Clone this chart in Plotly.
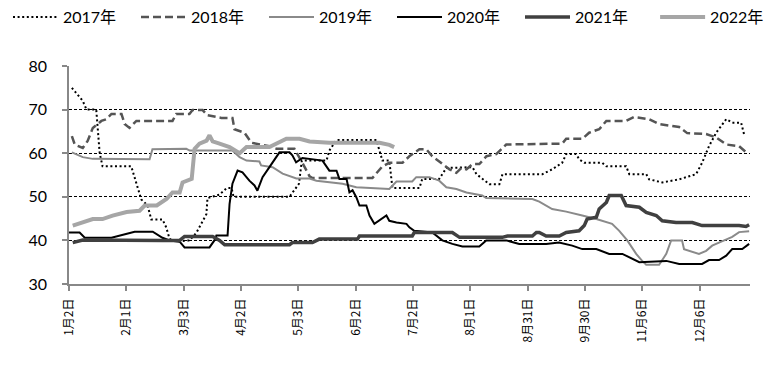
import plotly.graph_objects as go

# x positions are trading-day indices (20 trading days between labelled ticks)
tick_days = [0, 20, 40, 60, 80, 100, 120, 140, 160, 180, 200, 220]
tick_labels = ["1月2日", "2月1日", "3月3日", "4月2日", "5月3日", "6月2日",
               "7月2日", "8月1日", "8月31日", "9月30日", "11月6日", "12月6日"]

d2017 = [1, 4.8, 6.1, 9.5, 10.7, 11.7, 21.7, 25.2, 27.4, 28.7, 32.6, 33.9, 35.1, 38.6, 42,
         44.4, 47.9, 48.3, 52.5, 55, 56.7, 57.4, 76.9, 80.2, 81.2, 89.8, 90.8, 93.2, 107.2,
         108.3, 109.3, 111.7, 112.8, 122.2, 123.2, 129.1, 131.6, 140.7, 142.1, 146.6, 150.1,
         151.2, 165.1, 168.5, 172, 173.4, 176.9, 177.9, 179.7, 186, 187.4, 194.3, 195.4,
         201.3, 202.3, 206.9, 212.8, 218.7, 220.8, 223.2, 225.7, 229.2, 231.3, 234.4, 235.4]
v2017 = [75, 72, 70, 70, 60, 57, 57, 49.4, 48, 44.8, 44.8, 43, 40.3, 39.8, 40,
         41.7, 46, 49.7, 50.5, 52, 52, 50, 50, 53, 58.3, 58.3, 60.6, 63, 63,
         60.6, 58.3, 58.3, 52, 52, 54.1, 54.1, 56.6, 56.8, 55.2, 52.9, 52.9,
         55.2, 55.2, 56.3, 57.8, 59.8, 59.8, 58.6, 57.8, 57.8, 57, 57, 55.2,
         55.2, 54, 53.3, 54, 55.2, 57.8, 61.6, 64.7, 67.8, 67, 67, 64.4]

d2018 = [1, 2, 4.8, 6.5, 8.3, 11.3, 13, 14.8, 18.3, 19.4, 21.1, 23.5, 36.1, 37.4, 42, 43.1,
         46.6, 48.3, 53.1, 57, 57.7, 61.2, 63.6, 69.9, 72.4, 78.6, 81.4, 83.9, 84.9, 105.8,
         109.3, 111.7, 116.3, 118.7, 122.2, 124.6, 126.7, 130.2, 132.7, 135.1, 136.8, 138.6,
         140.7, 143.1, 145.6, 149, 152.5, 172, 173.4, 179, 181.4, 184.9, 187.4, 194.3, 197.1,
         202.3, 205.8, 212.8, 215.6, 222.2, 225.7, 229.2, 233.7, 236.5]
v2018 = [63.9, 62, 61.2, 62.8, 65.8, 67.4, 67.8, 69, 69, 66.7, 65.8, 67.4, 67.4, 69, 69, 69.9,
         69.9, 68.7, 68.1, 68.1, 65.5, 64.7, 62.4, 61.6, 61, 61, 57.8, 54.7, 54.3, 54.3,
         57, 57.8, 57.8, 59.3, 60.9, 60.9, 59.3, 57.5, 56.3, 55.5, 56.6, 56.3,
         57.5, 57.5, 59.3, 59.8, 62, 62.2, 63.3, 63.3, 64.7, 65.5, 67.4, 67.4, 68.3,
         67.8, 66.7, 66, 64.6, 64.4, 63.6, 62, 61.6, 60]

d2019 = [1, 3.7, 4.8, 8.3, 28.1, 29.1, 40.9, 42.1, 57, 59.5, 61.9, 66.4, 67, 71, 74.5, 79.3,
         83.9, 86.3, 90.8, 95.4, 100.2, 108.3, 111.7, 114.2, 119.7, 121.1, 125.7, 129.1, 131.6,
         135.1, 138.6, 144.1, 145.5, 161.6, 164, 168.5, 173.4, 179, 183.9, 189.4, 191.9, 194.7,
         197.8, 199.9, 201.3, 205.8, 208.3, 210, 213.8, 214.5, 216.3, 219.7, 222.2, 224.3,
         228.5, 231.3, 233.7, 237.2]
v2019 = [60.2, 59.5, 59.1, 58.7, 58.6, 60.9, 61, 60.6, 60.6, 59.1, 58.3, 58.1, 57.2, 56.8, 55.3, 54.2,
         54.2, 53.7, 53.3, 53, 52.2, 51.8, 51.8, 53.5, 53.5, 54.5, 54.5, 53.7, 52.2,
         51.8, 51, 50.3, 49.7, 49.5, 48.9, 47.2, 46.6, 45.7, 44.9, 43.8, 42.2, 40,
         36.9, 35.3, 34.4, 34.4, 36.9, 40, 40, 38, 37.6, 36.9, 37.6, 38.8,
         40, 40.8, 41.9, 42.1]

d2020 = [0, 3.7, 5.5, 14.8, 22.9, 29.2, 32.6, 35.1, 38.6, 40.3, 49, 50.7, 51.4, 55.3, 56, 57,
         58.8, 60.5, 62.9, 64.7, 65.7, 67.5, 69.9, 73.4, 76.9, 77.9, 79.2, 81.4, 88.4, 90.8,
         93.3, 94.3, 96.8, 97.8, 98.9, 100.2, 101.3, 103.7, 104.8, 106.5, 110.7, 111.7, 114.2,
         117.7, 118.7, 120.4, 126.7, 130.2, 133.7, 137.2, 143.1, 145.5, 152.5, 157, 166.4,
         170.9, 175.5, 179, 183.9, 188.4, 193, 196.4, 198.9, 208.3, 212.8, 220.8, 223.2, 226.7,
         229.2, 231.3, 234.8, 237.2]
v2020 = [41.8, 41.8, 40.6, 40.6, 42, 42, 40.6, 40, 39.7, 38.4, 38.4, 40, 41.1, 41.1, 48.4, 53,
         56, 55.6, 53.7, 52.6, 51.4, 54.5, 56.8, 60.2, 60.2, 59.5, 57.9, 58.9, 58.3, 56,
         56, 54.1, 54.1, 51, 51.5, 49.9, 48, 48, 45.7, 43.8, 45.7, 44.5, 44.1,
         43.8, 43, 42.2, 41.8, 40, 39.2, 38.6, 38.6, 40, 40, 39.2, 39.2,
         39.5, 38.8, 38, 38, 36.9, 36.9, 35.8, 35, 35.3, 34.6, 34.6, 35.5, 35.5,
         36.5, 38, 38, 39.2]

d2021 = [1.3, 4.8, 32.6, 38.6, 40.3, 50.1, 52.5, 54.3, 76.9, 77.9, 84.9, 87.3, 100.6, 101.3,
         119.7, 120.4, 133.7, 136.2, 151.1, 152.9, 161.6, 163, 164, 166.4, 171, 173.4, 177.9,
         179.7, 180.7, 183.9, 184.9, 187.4, 188.4, 192.6, 194.3, 198.9, 201.3, 204.8, 206.9,
         211.7, 217.4, 220.8, 233.7, 236.1, 237.2]
v2021 = [39.5, 40.1, 40, 40, 40.9, 40.9, 40, 39, 39, 39.5, 39.5, 40.3, 40.3, 41,
         41, 41.8, 41.8, 40.7, 40.7, 41, 41, 41.8, 41.8, 41, 41, 41.8, 42.2,
         43.4, 44.9, 45.3, 47.2, 48.7, 50.3, 50.3, 48, 47.6, 46.4, 45.7, 44.5,
         44.1, 44.1, 43.4, 43.4, 43.2, 43.6]

d2022 = [1.3, 4.8, 8.3, 11.7, 15.2, 20.1, 24.6, 26.4, 30.6, 34, 36.1, 38.6, 39.6, 42.8, 43.8,
         45.5, 48, 49, 50.1, 52.5, 56, 59.5, 61.9, 69.9, 73.4, 75.8, 80.4, 83.9, 90.8, 102.3,
         108.3, 111.7, 113.4]
v2022 = [43.4, 44.2, 44.9, 44.9, 45.7, 46.5, 46.8, 48, 48, 49.5, 51, 51, 53.3, 54.1, 61,
         62.2, 62.9, 64.1, 62.7, 62.2, 61.4, 60, 61.4, 61.4, 62.5, 63.3, 63.3, 62.7, 62.4, 62.4,
         62.4, 61.9, 61.4]

series = [
    ("2017年", d2017, v2017, dict(color="#000000", width=2, dash="2px,2.6px"), "legend"),
    ("2018年", d2018, v2018, dict(color="#555555", width=2.5, dash="8px,4px"), "legend"),
    ("2019年", d2019, v2019, dict(color="#8a8a8a", width=2), "legend"),
    ("2020年", d2020, v2020, dict(color="#000000", width=2), "legend"),
    ("2021年", d2021, v2021, dict(color="#404040", width=3.5), "legend"),
    ("2022年", d2022, v2022, dict(color="#a6a6a6", width=4), "legend2"),
]

fig = go.Figure()
for name, xs, ys, line, lg in series:
    fig.add_trace(go.Scatter(x=xs, y=ys, mode="lines", name=name, line=line, legend=lg))

legend_common = dict(orientation="h", xref="container", yref="container",
                     y=0.975, xanchor="left", yanchor="middle",
                     entrywidth=68, entrywidthmode="pixels",
                     font=dict(size=16, family="Lato, Noto Sans CJK SC", color="#000000"),
                     bgcolor="rgba(0,0,0,0)", itemwidth=45)

fig.update_layout(
    width=764, height=363,
    margin=dict(l=61, r=22, t=58, b=87, autoexpand=False),
    paper_bgcolor="white", plot_bgcolor="white",
    font=dict(family="Lato, Noto Sans CJK SC", size=15, color="#000000"),
    showlegend=True,
    legend=dict(x=0.0, **legend_common),
    legend2=dict(x=0.847, **legend_common),
)
fig.update_xaxes(
    range=[0, 237.5], tickmode="array", tickvals=tick_days, ticktext=tick_labels,
    tickangle=-90, ticks="outside", ticklen=5, tickcolor="#888888", tickwidth=1.5,
    showline=True, linecolor="#888888", linewidth=1.5, showgrid=False, zeroline=False,
    ticklabelstandoff=3,
    tickfont=dict(family="Noto Sans CJK SC", size=12, color="#000000"),
)
fig.update_yaxes(
    range=[30, 80], tickvals=[30, 40, 50, 60, 70, 80], ticks="outside", ticklen=5,
    tickcolor="#888888", tickwidth=1.5, showline=True, linecolor="#888888", linewidth=1.5,
    showgrid=True, gridcolor="#000000", gridwidth=1, griddash="3px,2px", zeroline=False,
    ticklabelstandoff=12,
    tickfont=dict(family="Lato", size=16, color="#000000"),
)
fig.write_html("out.html")
